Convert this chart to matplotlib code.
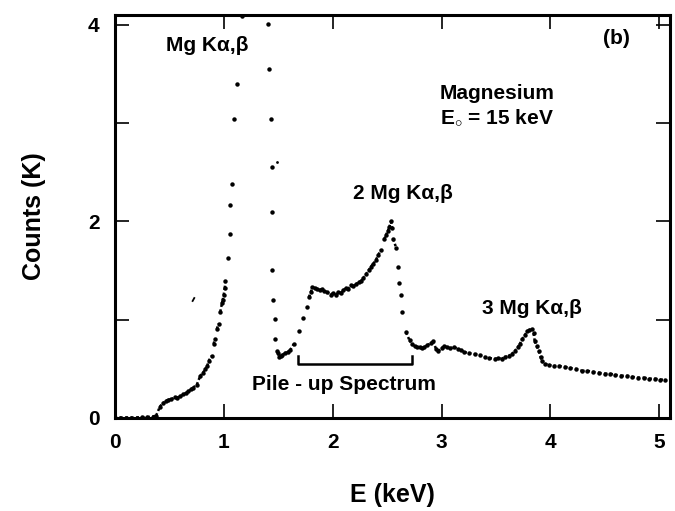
import numpy as np
import matplotlib
matplotlib.use("Agg")
import matplotlib.pyplot as plt

plt.rcParams['font.family'] = ['Liberation Sans', 'DejaVu Sans']
plt.rcParams['font.weight'] = 'bold'
plt.rcParams['axes.labelweight'] = 'bold'
plt.rcParams['mathtext.fontset'] = 'custom'
plt.rcParams['mathtext.rm'] = 'Liberation Sans:bold'

# spectrum: energy (keV) and counts (K)
energy = [0.00, 0.05, 0.10, 0.15, 0.20, 0.25, 0.30, 0.35, 0.38,
          0.415, 0.44, 0.47, 0.489, 0.52, 0.55, 0.569, 0.60, 0.63, 0.65, 0.676,
          0.70, 0.72, 0.754, 0.784, 0.81, 0.83, 0.85, 0.861, 0.892, 0.907, 0.92,
          0.938, 0.953, 0.969, 0.984, 0.99, 1.00, 1.01, 1.015, 1.04, 1.06, 1.062,
          1.075, 1.095, 1.12, 1.165,
          1.41, 1.415, 1.43, 1.445, 1.44, 1.445, 1.45, 1.47, 1.475, 1.49,
          1.50, 1.51, 1.522, 1.54, 1.56, 1.587, 1.61, 1.642,
          1.691, 1.732, 1.762, 1.783, 1.80, 1.815, 1.84, 1.861, 1.88, 1.90, 1.922,
          1.95, 1.983, 2.00, 2.03, 2.05, 2.076, 2.10, 2.122, 2.14, 2.168, 2.19,
          2.214, 2.24, 2.26, 2.28, 2.306, 2.33, 2.352, 2.375, 2.399, 2.42, 2.445,
          2.475, 2.49, 2.506, 2.52, 2.537, 2.545, 2.558, 2.583, 2.598, 2.613,
          2.629, 2.636, 2.675, 2.706, 2.73, 2.752, 2.775, 2.798, 2.82, 2.841,
          2.87, 2.90, 2.924, 2.95, 2.97, 3.00, 3.026, 3.05, 3.08, 3.118, 3.15,
          3.18, 3.21, 3.25, 3.303, 3.35, 3.395, 3.44, 3.487, 3.52, 3.552, 3.58,
          3.616, 3.645, 3.672, 3.70, 3.718, 3.74, 3.764, 3.785, 3.801, 3.828,
          3.845, 3.856, 3.875, 3.893, 3.91, 3.921, 3.95, 3.985, 4.03, 4.08,
          4.133, 4.18, 4.23, 4.29, 4.34, 4.39, 4.446, 4.50, 4.55, 4.594, 4.65,
          4.70, 4.751, 4.80, 4.86, 4.908, 4.96, 5.01, 5.055]
counts = [0.005, 0.005, 0.005, 0.005, 0.005, 0.008, 0.01, 0.015, 0.025,
          0.116, 0.15, 0.17, 0.186, 0.19, 0.21, 0.206, 0.22, 0.24, 0.25, 0.271,
          0.29, 0.31, 0.34, 0.426, 0.46, 0.495, 0.53, 0.58, 0.632, 0.753, 0.80,
          0.907, 0.959, 1.08, 1.165, 1.196, 1.25, 1.32, 1.39, 1.63, 1.87, 2.17,
          2.38, 3.04, 3.40, 4.09,
          4.01, 3.55, 3.04, 2.55, 2.09, 1.50, 1.20, 1.01, 0.80, 0.68,
          0.66, 0.62, 0.63, 0.64, 0.66, 0.67, 0.69, 0.75,
          0.88, 1.02, 1.13, 1.23, 1.28, 1.33, 1.32, 1.31, 1.30, 1.31, 1.29,
          1.28, 1.25, 1.27, 1.25, 1.28, 1.27, 1.30, 1.32, 1.31, 1.35, 1.34,
          1.36, 1.38, 1.39, 1.42, 1.46, 1.50, 1.54, 1.57, 1.61, 1.66, 1.71,
          1.82, 1.86, 1.90, 1.94, 2.00, 1.93, 1.82, 1.73, 1.54, 1.37,
          1.25, 1.08, 0.87, 0.79, 0.75, 0.73, 0.72, 0.72, 0.71, 0.72,
          0.74, 0.76, 0.78, 0.70, 0.68, 0.71, 0.73, 0.72, 0.71, 0.72, 0.70,
          0.69, 0.67, 0.66, 0.65, 0.64, 0.62, 0.61, 0.60, 0.61, 0.60, 0.62,
          0.63, 0.65, 0.68, 0.72, 0.75, 0.80, 0.84, 0.88, 0.89, 0.91,
          0.86, 0.78, 0.73, 0.68, 0.62, 0.58, 0.55, 0.54, 0.53, 0.53,
          0.52, 0.51, 0.50, 0.48, 0.48, 0.47, 0.46, 0.45, 0.45, 0.44, 0.43,
          0.43, 0.42, 0.41, 0.41, 0.40, 0.40, 0.39, 0.39]

# stray marks printed on the original figure
stray_energy = [0.715, 0.73, 1.49]
stray_counts = [1.19, 1.22, 2.60]

# pile-up bracket ends (keV) and level (K)
bracket_e = [1.68, 2.73]
bracket_y = [0.546, 0.63]

fig = plt.figure(figsize=(6.75, 5.11), dpi=100)
ax = fig.add_axes([0.170, 0.182, 0.823, 0.789])

e = np.array(energy)
c = np.array(counts)

# continuous (noisy) stretches drawn as dense dotted line, steep parts as lone dots
le, lc = [], []
for i in range(len(e) - 1):
    if abs(c[i + 1] - c[i]) < 0.1 and abs(e[i + 1] - e[i]) < 0.07:
        le += [e[i], e[i + 1], np.nan]
        lc += [c[i], c[i + 1], np.nan]
ax.plot(le, lc, color='black', lw=1.8, ls=(0, (1, 1)))
ax.plot(e, c, 'o', color='black', ms=3.2, mew=0)
ax.plot(stray_energy[:2], stray_counts[:2], color='black', lw=1.3)
ax.plot(stray_energy[2:], stray_counts[2:], 'o', color='black', ms=2.0, mew=0)

# bracket
ax.plot([bracket_e[0], bracket_e[0], bracket_e[1], bracket_e[1]],
        [bracket_y[1], bracket_y[0], bracket_y[0], bracket_y[1]],
        color='black', lw=1.8)

ax.text(0.85, 3.79, 'Mg K\u03b1,\u03b2', ha='center', va='center', fontsize=15)
ax.text(2.65, 2.28, '2 Mg K\u03b1,\u03b2', ha='center', va='center', fontsize=15)
ax.text(3.83, 1.11, '3 Mg K\u03b1,\u03b2', ha='center', va='center', fontsize=15)
ax.text(2.10, 0.34, 'Pile - up Spectrum', ha='center', va='center', fontsize=15)
ax.text(4.61, 3.86, '(b)', ha='center', va='center', fontsize=15)
ax.text(3.51, 3.30, 'Magnesium', ha='center', va='center', fontsize=15)
ax.text(3.51, 3.05, r'E$_{\circ}$ = 15 keV', ha='center', va='center', fontsize=15)

ax.set_xlim(0, 5.1)
ax.set_ylim(0, 4.1)
ax.set_xticks([0, 1, 2, 3, 4, 5])
ax.set_yticks([0, 1, 2, 3, 4])
ax.set_yticklabels(['0', '', '2', '', '4'])
ax.tick_params(direction='in', length=10, width=1.2, top=True, right=True,
               labelsize=15, pad=11)
for s in ax.spines.values():
    s.set_linewidth(2.2)

ax.set_xlabel('E (keV)', fontsize=18, labelpad=22)
ax.set_ylabel('Counts (K)', fontsize=18, labelpad=30)

fig.savefig('out.png', dpi=100, facecolor='white')
